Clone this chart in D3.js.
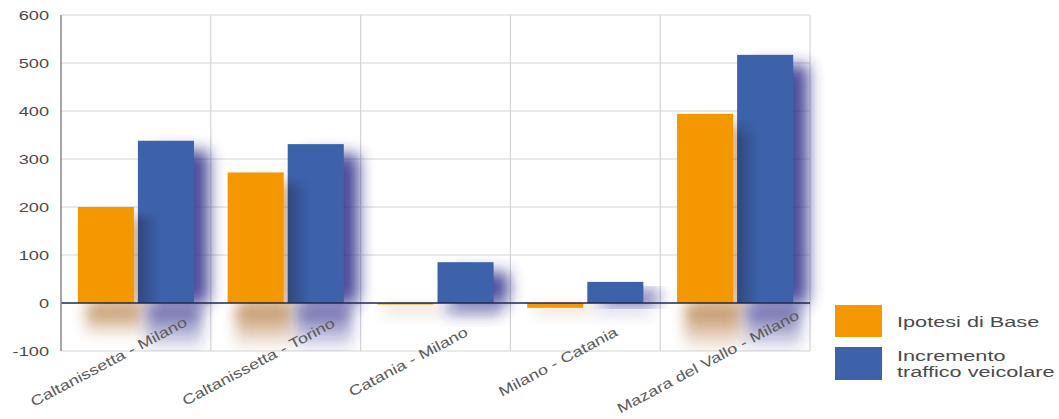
<!DOCTYPE html>
<html>
<head>
<meta charset="utf-8">
<script src="https://cdn.jsdelivr.net/npm/d3@7"></script>
<style>
  body { margin: 0; background: #fff; }
  text { font-family: "Liberation Sans", Arial, sans-serif; }
</style>
</head>
<body>
<svg id="chart" width="1059" height="419"></svg>
<script>
const categories = [
  "Caltanissetta - Milano",
  "Caltanissetta - Torino",
  "Catania - Milano",
  "Milano - Catania",
  "Mazara del Vallo - Milano"
];
const seriesNames = ["Ipotesi di Base", "Incremento traffico veicolare"];
const baseValues = [200, 272, -3, -10, 394];
const trafficValues = [338, 331, 85, 44, 517];
const yTicks = [-100, 0, 100, 200, 300, 400, 500, 600];
const colors = ["#f39800", "#3d62aa"];
const shadowColors = ["#a5601c", "#2b2a88"];

const svg = d3.select("#chart");
const plotL = 61, plotR = 810, plotT = 15, plotB = 351;
const stretch = 1.4; // the original picture is widened, text included

const data = categories.map((c, i) => ({
  cat: c,
  vals: [baseValues[i], trafficValues[i]]
}));

const y = d3.scaleLinear().domain([-100, 600]).range([plotB, plotT]);
const x0 = d3.scaleBand().domain(categories).range([plotL, plotR]).padding(0);
const x1 = d3.scaleBand().domain([0, 1]).range([0, x0.bandwidth()])
  .paddingInner(0.067).paddingOuter(0.28);

const defs = svg.append("defs");
defs.append("filter").attr("id", "blur").attr("x", "-50%").attr("y", "-50%")
  .attr("width", "200%").attr("height", "200%")
  .append("feGaussianBlur").attr("stdDeviation", 8);
defs.append("filter").attr("id", "blur2").attr("x", "-50%").attr("y", "-50%")
  .attr("width", "200%").attr("height", "200%")
  .append("feGaussianBlur").attr("stdDeviation", 7);
shadowColors.forEach((c, k) => {
  const gr = defs.append("linearGradient").attr("id", "refl" + k)
    .attr("x1", 0).attr("y1", 0).attr("x2", 0).attr("y2", 1);
  gr.append("stop").attr("offset", "0%").attr("stop-color", c).attr("stop-opacity", 0.8);
  gr.append("stop").attr("offset", "100%").attr("stop-color", c).attr("stop-opacity", 0);
});
const side = defs.append("linearGradient").attr("id", "sideShade")
  .attr("x1", 0).attr("y1", 0).attr("x2", 1).attr("y2", 0);
side.append("stop").attr("offset", "0%").attr("stop-color", "#1c2040").attr("stop-opacity", 0.4);
side.append("stop").attr("offset", "100%").attr("stop-color", "#1c2040").attr("stop-opacity", 0);
const sideFade = defs.append("linearGradient").attr("id", "sideFade")
  .attr("x1", 0).attr("y1", 0).attr("x2", 0).attr("y2", 1);
sideFade.append("stop").attr("offset", "0%").attr("stop-color", "#fff").attr("stop-opacity", 0);
sideFade.append("stop").attr("offset", "12%").attr("stop-color", "#fff").attr("stop-opacity", 1);
defs.append("mask").attr("id", "sideMask").attr("maskContentUnits", "objectBoundingBox")
  .append("rect").attr("width", 1).attr("height", 1).attr("fill", "url(#sideFade)");
defs.append("clipPath").attr("id", "plotclip")
  .append("rect").attr("x", plotL).attr("y", plotT)
  .attr("width", plotR - plotL + 40).attr("height", plotB - plotT);

// grid
svg.append("g").selectAll("line").data(yTicks.filter(d => d !== 0)).join("line")
  .attr("x1", plotL).attr("x2", plotR)
  .attr("y1", d => y(d)).attr("y2", d => y(d))
  .attr("stroke", "#d4d4d4").attr("stroke-width", 1.2);
svg.append("g").selectAll("line").data(categories).join("line")
  .attr("x1", d => x0(d) + x0.bandwidth()).attr("x2", d => x0(d) + x0.bandwidth())
  .attr("y1", plotT).attr("y2", plotB)
  .attr("stroke", "#d4d4d4").attr("stroke-width", 1.2);

// shadows and reflections
const shadows = svg.append("g").attr("clip-path", "url(#plotclip)");
data.forEach(d => {
  d.vals.forEach((v, k) => {
    const bx = x0(d.cat) + x1(k);
    if (v > 0) {
      shadows.append("rect")
        .attr("x", bx + 15).attr("y", y(v) + 10)
        .attr("width", x1.bandwidth()).attr("height", y(0) - y(v) - 10)
        .attr("fill", shadowColors[k]).attr("opacity", k === 1 ? 0.85 : 0.45)
        .attr("filter", "url(#blur)");
    }
    const refl = Math.min(48, Math.max(14, (y(0) - y(Math.max(v, 0))) * 0.35));
    shadows.append("rect")
      .attr("x", bx + 8).attr("y", y(0) + 2)
      .attr("width", x1.bandwidth()).attr("height", refl)
      .attr("fill", `url(#refl${k})`).attr("opacity", v > 50 ? 0.95 : 0.35)
      .attr("filter", "url(#blur2)");
  });
});

// bars
const groups = svg.append("g").selectAll("g").data(data).join("g")
  .attr("transform", d => `translate(${x0(d.cat)},0)`);
groups.selectAll("rect").data(d => d.vals.map((v, k) => ({v, k}))).join("rect")
  .attr("x", d => x1(d.k))
  .attr("y", d => y(Math.max(0, d.v)))
  .attr("width", x1.bandwidth())
  .attr("height", d => Math.max(1.5, Math.abs(y(d.v) - y(0))))
  .attr("fill", d => colors[d.k]);

// shade cast by the orange bar onto the left side of the blue bar
groups.filter(d => d.vals[0] > 0 && d.vals[1] > 0).append("rect")
  .attr("x", x1(1))
  .attr("y", d => y(Math.min(d.vals[0], d.vals[1])) + 4)
  .attr("width", 22)
  .attr("height", d => y(0) - y(Math.min(d.vals[0], d.vals[1])) - 4)
  .attr("fill", "url(#sideShade)")
  .attr("mask", "url(#sideMask)");

// zero line and left axis
svg.append("line").attr("x1", plotL).attr("x2", plotR)
  .attr("y1", y(0)).attr("y2", y(0))
  .attr("stroke", "#1e2850").attr("stroke-width", 1.5);
svg.append("line").attr("x1", plotL).attr("x2", plotL)
  .attr("y1", plotT).attr("y2", plotB)
  .attr("stroke", "#8a8a8a").attr("stroke-width", 1.5);

// y labels
svg.append("g").selectAll("text").data(yTicks).join("text")
  .attr("transform", d => `translate(49,${y(d) + 5}) scale(${stretch},1)`)
  .attr("text-anchor", "end")
  .attr("font-size", 13).attr("fill", "#4a4a4a")
  .text(d => d);

// x labels
svg.append("g").selectAll("text").data(categories).join("text")
  .attr("transform", d => `translate(${x0(d) + x0.bandwidth() / 2 - 25},366) rotate(-28) scale(1.3,1)`)
  .attr("text-anchor", "middle")
  .attr("font-size", 14).attr("fill", "#5a5a5a")
  .text(d => d);

// legend
const lg = svg.append("g");
lg.append("rect").attr("x", 835).attr("y", 305).attr("width", 47).attr("height", 32).attr("fill", colors[0]);
lg.append("rect").attr("x", 835).attr("y", 347).attr("width", 47).attr("height", 33).attr("fill", colors[1]);
const legText = [[seriesNames[0], 327], ["Incremento", 361], ["traffico veicolare", 377]];
lg.selectAll("text").data(legText).join("text")
  .attr("transform", d => `translate(897,${d[1]}) scale(${stretch},1)`)
  .attr("font-size", 15.5).attr("fill", "#4a4a4a")
  .text(d => d[0]);
</script>
</body>
</html>
